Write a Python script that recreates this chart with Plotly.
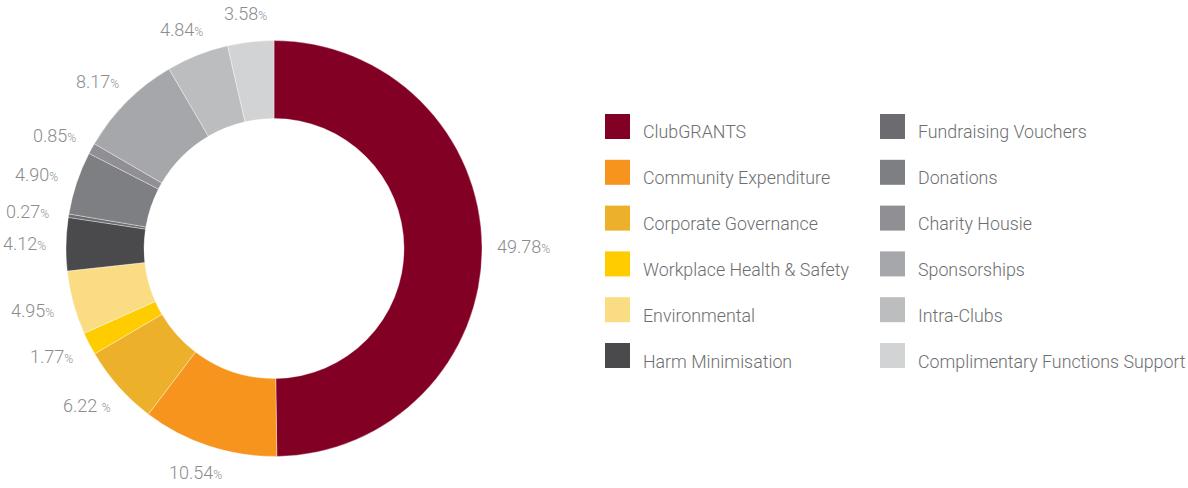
import math
import plotly.graph_objects as go

# Share of community contribution by category (percent)
categories = [
    "ClubGRANTS", "Community Expenditure", "Corporate Governance",
    "Workplace Health & Safety", "Environmental", "Harm Minimisation",
    "Fundraising Vouchers", "Donations", "Charity Housie",
    "Sponsorships", "Intra-Clubs", "Complimentary Functions Support",
]
values = [49.78, 10.54, 6.22, 1.77, 4.95, 4.12, 0.27, 4.90, 0.85, 8.17, 4.84, 3.58]
value_labels = ["49.78", "10.54", "6.22 ", "1.77", "4.95", "4.12",
                "0.27", "4.90", "0.85", "8.17", "4.84", "3.58"]
colors = [
    "#820024", "#F7941E", "#ECB02B", "#FFCC00", "#FADC83", "#4A4A4C",
    "#6C6C70", "#7E7F83", "#909094", "#A6A7AA", "#BCBDBF", "#D2D3D5",
]

W, H = 1188, 488
FONT = "Roboto"
LABEL_COLOR = "#8C8C8E"
LEGEND_COLOR = "#6D6E71"

# donut geometry in pixels
cx, cy, R = 274, 248.5, 208
label_rx, label_ry = 250, 236

fig = go.Figure(go.Pie(
    labels=categories,
    values=values,
    marker=dict(colors=colors, line=dict(color="rgba(255,255,255,0.6)", width=0.6)),
    hole=0.625,
    sort=False,
    direction="clockwise",
    rotation=0,
    textinfo="none",
    hoverinfo="label+value",
    showlegend=False,
    domain=dict(x=[(cx - R) / W, (cx + R) / W], y=[1 - (cy + R) / H, 1 - (cy - R) / H]),
))

annotations = []
shapes = []

# percentage labels placed on an ellipse at each slice's mid-angle
total = sum(values)
cum = 0.0
for v, txt in zip(values, value_labels):
    mid = (cum + v / 2) / total * 2 * math.pi
    cum += v
    px = cx + label_rx * math.sin(mid)
    py = cy - label_ry * math.cos(mid)
    annotations.append(dict(
        x=px / W, y=1 - py / H, xref="paper", yref="paper",
        text=f"{txt}<span style='font-size:12px'>%</span>",
        showarrow=False, xanchor="center", yanchor="middle",
        font=dict(family=FONT, size=18, color=LABEL_COLOR, weight=300),
    ))

# two-column legend
col_x = [605, 880]
row_top0, row_step, sq = 114, 45.8, 25
for i, (name, c) in enumerate(zip(categories, colors)):
    col, row = divmod(i, 6)
    x0 = col_x[col]
    y0 = row_top0 + row * row_step
    shapes.append(dict(
        type="rect", xref="paper", yref="paper",
        x0=x0 / W, x1=(x0 + sq) / W, y0=1 - (y0 + sq) / H, y1=1 - y0 / H,
        fillcolor=c, line=dict(width=0),
    ))
    annotations.append(dict(
        x=(x0 + 36) / W, y=1 - (y0 + 18) / H, xref="paper", yref="paper",
        text=name, showarrow=False, xanchor="left", yanchor="middle",
        font=dict(family=FONT, size=17.8, color=LEGEND_COLOR, weight=300),
    ))

fig.update_layout(
    width=W, height=H,
    margin=dict(l=0, r=0, t=0, b=0),
    paper_bgcolor="white", plot_bgcolor="white",
    annotations=annotations, shapes=shapes,
)

fig.write_html("out.html")
